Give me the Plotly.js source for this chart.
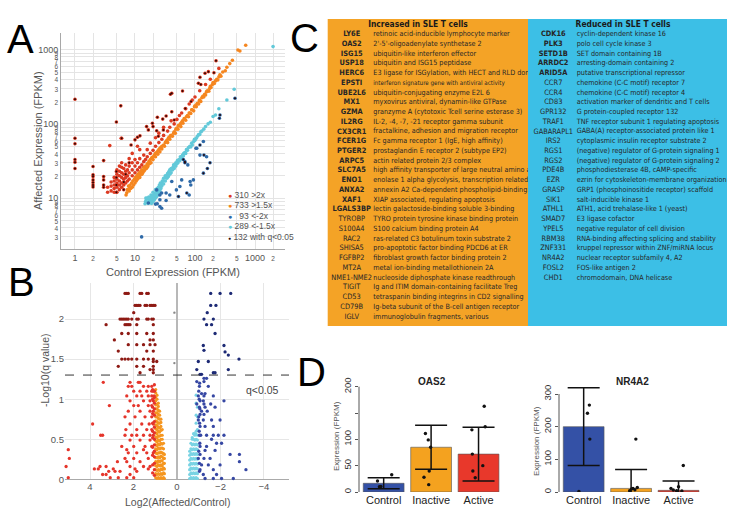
<!DOCTYPE html>
<html><head><meta charset="utf-8">
<script src="https://cdn.plot.ly/plotly-3.0.1.min.js"></script>
<style>html,body{margin:0;padding:0;background:#fff}#chart{width:735px;height:524px}</style>
</head><body><div id="chart"></div>
<script>
// ---------------- Panel A data: [control FPKM, affected FPKM] ----------------
const A_orange = [[7.1,11],[7.3,11.8],[7.5,13],[7.8,14.5],[8,12.5],[8.2,13.8],[8.3,15],[8.5,13.5],[8.8,16],[9,14],[9.2,17],[9.5,15],[9.8,18],[10,16],[10.2,19],[10.5,17],[10.8,20],[11,18],[11.3,21],[11.5,19],[11.8,22],[12,20],[12,19],[12.5,23],[12.8,21],[13,24],[13,21],[13.5,22],[14,26],[14,23],[14.5,24],[15,27],[15.5,25],[16,29],[16,26],[16.5,27],[17,31],[17.5,29],[18,33],[18,30],[18.5,30],[19,35],[20,33],[20,36],[21,38],[22,36],[22,40],[23,41],[24,39],[24,43],[25,45],[26,42],[26,47],[27,48],[28,46],[28,50],[30,52],[31,50],[32,56],[33,58],[34,60],[35,56],[36,64],[37,66],[38,62],[39,69],[40,70],[42,68],[44,75],[45,78],[47,75],[48,85],[50,88],[52,85],[53,95],[55,95],[57,100],[58,92],[60,105],[62,110],[63,102],[66,118],[67,115],[70,112],[72,125],[75,130],[78,125],[80,140],[82,140],[85,138],[88,155],[90,155],[95,150],[98,170],[100,175],[105,170],[108,185],[110,190],[115,185],[118,205],[120,210],[125,200],[130,225],[135,235],[140,230],[145,250],[150,245],[155,270],[160,280],[170,275],[175,300],[180,320],[185,310],[195,340],[200,360],[210,350],[220,380],[230,400],[240,390],[250,430],[260,460],[270,440],[290,500],[320,520],[340,580],[380,650],[420,720],[520,990],[560,960],[700,1150]];
const A_red = [[3.5,12],[3.5,14],[4,12.5],[4,14.5],[4,16.5],[4.5,12],[4.5,13.5],[4.5,15],[4.5,17],[4.5,19],[5,12],[5,14],[5,16],[5,18],[5,21],[5,24],[5.5,13],[5.5,15],[5.5,17],[5.5,20],[5.5,23],[5.5,27],[6,14],[6,16],[6,19],[6,22],[6,26],[6,30],[6.5,15],[6.5,18],[6.5,21],[6.5,25],[7,16],[7,19],[7,23],[7,28],[7.5,17],[7.5,20],[7.5,24],[8,18],[8,22],[8,27],[8,34],[9,20],[9,24],[9,30],[9,40],[10,22],[10,27],[10,33],[11,24],[11,30],[11,50],[12,26],[12,34],[12,45],[13,28],[14,31],[14,38],[15,33],[16,36],[16,45],[18,40],[18,55],[20,44],[22,50],[22,65],[25,56],[25,75],[28,62],[30,70],[30,90],[35,80],[38,90],[40,110],[45,100],[50,115],[55,130],[60,140],[70,160],[80,185],[90,210],[100,230],[120,280],[150,340],[180,400],[250,560],[3.8,51],[5.9,64]];
const A_upSig = [[1,215],[1,64],[1,54],[1,33],[1,30.5],[1,25],[2,26.6],[2,20.6],[2,19.5],[2,17.6],[2,16.2],[2,15],[2,14.1],[3,32],[3,19.5],[3,17.6],[3,15],[3,14],[4.9,106],[5.8,175],[41,259],[62,278],[114,353],[224,711],[147,481],[207,490],[41,146],[23.6,123],[20,92],[16.7,83],[12.1,69],[33,128],[29.7,83],[45,113],[69,161],[86,200],[24.5,68],[10,61],[6,64],[8.6,52],[11,66],[15.6,92],[19.5,102],[23,81],[29,116],[39,251],[121,426],[125,340],[167,506],[4.9,22.8],[4.9,19],[4.9,15],[4.9,12],[6.5,13],[6.5,16.5],[7,21],[8,30]];
const A_cyan = [[14.7,8.4],[15,9],[15.5,9.6],[16,10],[15.2,10],[16.5,8.5],[17,9],[17.5,9.6],[17,10.3],[18,8.6],[18.5,9.3],[18,10],[18.5,11],[19,8.5],[19.5,9.6],[19,10.5],[20,9],[20.5,10],[20,11],[20,12],[21,9.5],[21,10.5],[21.5,11.5],[22,10],[22,11],[22.5,12],[22,13],[23,10.5],[23,12],[23.5,13.5],[24,11],[24,12.5],[24.5,14],[25,11.5],[25,13],[25.5,15],[26,12.5],[26,14],[26.5,16],[27,13.5],[27,15],[28,14.5],[28,16],[28.5,17],[30,15.5],[30,17],[30,18.5],[32,17],[32,19],[32,20],[34,18.5],[34,20],[35,21.5],[36,19.5],[36,22],[37,23],[38,21],[38,24],[40,22],[40,25],[42,24],[43,26],[44,28],[45,25],[46,28],[48,27],[48,30],[50,29],[51,32],[52,30],[54,33],[56,32],[57,36],[58,34],[60,36],[62,38],[64,37],[65,40],[68,41],[70,40],[72,45],[75,44],[78,48],[82,50],[85,49],[88,55],[90,52],[95,58],[98,62],[100,60],[105,64],[110,68],[115,72],[120,72],[125,78],[130,80],[140,85],[150,92],[165,100],[180,105],[200,126],[220,132],[250,160],[340,210],[450,293],[2000,1100]];
const A_blue = [[12.9,3],[26,7.7],[22,8.3],[33,9.3],[38,11],[33,11.7],[85,15],[94,17.6],[121,38],[156,36],[76,28],[23,12.9],[26,11],[16.7,8.6],[60,17.6],[49,12.9],[104,47],[138,58],[56,14.3],[83,16.7],[80,11],[107,47],[41,16.7],[27.8,11.7],[26,9.5],[23.5,8.4],[27.8,7.3]];
const A_downSig = [[255,119],[261,132],[464,222],[178,30],[161,25],[141,38],[121,52],[64,33],[68,30],[53,10.5],[73,11.7],[138,21.7],[68,31]];
const A_legendLabels = ['310 >2x','733 >1.5x','\u00a0\u00a093 <-2x','289 <-1.5x','132 with q<0.05'];
const A_xTickVals = [1,2,5,10,20,50,100,200,500,1000,2000];
const A_yTickVals = [2,3,4,5,6,7,8,9,10,20,30,40,50,60,70,80,90,100,200,300,400,500,600,700,800,900,1000];

// ---------------- Panel B data: log2(Affected/Control), -log10(q) ----------------
const B_upSigRows = [[2.32,[2.39,2.31,2.24,1.70,1.62,1.39,1.32]],[2.17,[1.93,1.85,1.78,1.70,1.47,1.39,1.24,1.16,1.09,1.01]],[2.08,[1.99]],[2.0,[2.62,2.54,2.47,2.39,2.31,2.24,2.08,1.85,1.78,1.39,1.32,1.16,1.09]],[1.93,[3.26,2.39,2.31,2.24,2.16,1.85,1.09]],[1.82,[2.54,2.24,1.85,1.39,1.09]],[1.74,[2.88,1.24,1.09]],[1.68,[2.24,1.85,1.54,1.24,1.01]],[1.60,[2.70,1.39,1.09]],[1.50,[2.54,2.39,2.24,2.08,1.85,1.54,1.32,1.09]],[1.47,[1.09,0.93]],[1.41,[2.70,1.85,1.54,1.09]],[1.37,[1.24,1.09]],[1.33,[1.70,1.09]]];
const B_redRows = [[1.21,[3.39,2.16,1.78,1.70]],[1.16,[2.24,2.08,1.54,1.32,1.16]],[1.10,[1.99,1.70,1.39,1.16,1.09]],[1.04,[2.31,1.85,1.62,1.32,1.16,1.05]],[0.98,[2.16,1.54,1.24,1.09]],[0.92,[3.11,1.99,1.78,1.32,1.16]],[0.85,[2.24,1.70,1.24,1.09]],[0.78,[2.39,1.93,1.47,1.16]],[0.69,[3.88,2.16,1.62,1.28,1.09]],[0.62,[2.35,1.85,1.39,1.16]],[0.55,[3.51,3.42,2.39,2.08,1.85,1.54,1.24,1.09]],[0.49,[2.16,1.70,1.24]],[0.41,[2.54,1.99,1.47,1.16]],[0.37,[5.0,2.31,1.54]],[0.33,[2.24,1.85,1.39,1.09]],[0.26,[4.95,2.39,1.99,1.32]],[0.22,[2.74,2.31,1.70]],[0.16,[5.1,3.54,3.26,2.16,1.54,1.24]],[0.13,[3.80,3.62,2.93,1.93,1.32]],[0.10,[3.14,2.85,2.62,1.85]],[0.06,[3.42,3.26,2.16]],[0.02,[5.0,3.07,2.7,2.31,1.99]]];
const B_redCols = [[1.04,[0.05,0.12,0.2,0.28,0.35,0.43,0.5,0.58,0.65,0.72,0.8,0.88,0.95,1.02,1.1,1.18]],[1.12,[0.08,0.18,0.3,0.4,0.52,0.6,0.7,0.82,0.9,1.0,1.12]]];
const B_orangeCols = [[0.98,[0.02,0.07,0.12,0.17,0.22,0.27,0.33,0.38,0.43,0.48,0.53,0.58,0.63,0.68,0.73,0.78,0.83,0.88,0.93,0.98,1.03,1.08,1.12]],[0.92,[0.01,0.06,0.11,0.16,0.21,0.27,0.32,0.37,0.42,0.47,0.52,0.57,0.62,0.67,0.72,0.78,0.83,0.88,0.94,1.0,1.05]],[0.86,[0.02,0.07,0.12,0.18,0.23,0.28,0.33,0.39,0.44,0.49,0.54,0.6,0.65,0.7,0.76,0.81,0.86,0.91,0.95]],[0.80,[0.01,0.06,0.11,0.17,0.22,0.27,0.33,0.38,0.43,0.48,0.54,0.59,0.64,0.7,0.75,0.8,0.85]],[0.74,[0.02,0.07,0.13,0.18,0.23,0.29,0.34,0.39,0.45,0.5,0.55,0.61,0.66,0.71,0.75]],[0.68,[0.01,0.06,0.12,0.17,0.23,0.28,0.33,0.39,0.44,0.5,0.55,0.62]],[0.62,[0.02,0.08,0.14,0.2,0.26,0.32,0.38,0.45]],[0.58,[0.01,0.07,0.13,0.2,0.26,0.31]]];
const B_cyanCols = [[-0.58,[0.01,0.06,0.12,0.18,0.24,0.3,0.35]],[-0.64,[0.02,0.08,0.14,0.2,0.26,0.32,0.38,0.45]],[-0.70,[0.01,0.07,0.13,0.19,0.25,0.31,0.37,0.43,0.5,0.52]],[-0.76,[0.02,0.08,0.14,0.2,0.26,0.32,0.38,0.44,0.5,0.57]],[-0.82,[0.01,0.07,0.13,0.19,0.25,0.31,0.37,0.43,0.49,0.55,0.57]],[-0.88,[0.02,0.08,0.14,0.2,0.26,0.32,0.38,0.44,0.5,0.56,0.6,0.7,0.8,0.95,1.05]],[-0.94,[0.01,0.07,0.13,0.19,0.25,0.31,0.37,0.43,0.49,0.55,0.62,0.78,0.9]]];
const B_navy = [[-1.24,1.26],[-1.36,1.26],[-0.91,1.22],[-1.24,1.22],[-1.03,1.16],[-1.44,1.16],[-1.13,1.07],[-1.29,1.07],[-0.98,1.04],[-1.24,1.04],[-1.67,1.04],[-2.16,0.98],[-1.06,0.98],[-1.21,0.98],[-0.91,0.94],[-1.24,0.94],[-1.55,0.94],[-1.03,0.9],[-1.29,0.9],[-1.75,0.9],[-1.13,0.85],[-1.39,0.85],[-1.06,0.81],[-1.24,0.81],[-0.98,0.74],[-1.21,0.74],[-1.59,0.74],[-1.98,0.74],[-1.06,0.66],[-1.29,0.66],[-1.67,0.66],[-1.03,0.55],[-1.09,0.55],[-1.36,0.55],[-1.67,0.55],[-1.9,0.55],[-2.16,0.55],[-1.59,0.5],[-1.82,0.45],[-2.05,0.45],[-1.06,0.41],[-1.36,0.41],[-1.29,0.36],[-1.75,0.36],[-1.06,0.31],[-2.44,0.31],[-2.87,0.31],[-0.98,0.26],[-1.24,0.26],[-1.52,0.26],[-2.87,0.22],[-1.13,0.18],[-1.44,0.18],[-1.98,0.18],[-3.17,0.12],[-1.06,0.12],[-1.67,0.12],[-1.21,0.06],[-1.82,0.06],[-1.29,0.01],[-1.67,0.01],[-2.05,0.01],[-2.59,0.01],[-1.03,0.1],[-1.03,0.2],[-1.0,0.35],[-1.05,0.45],[-1.02,0.6],[-1.04,0.7],[-1.0,0.78],[-1.05,0.88],[-1.02,1.0],[-1.0,1.1],[-1.04,1.2]];
const B_navySig = [[-1.55,2.32],[-1.98,2.32],[-2.47,2.32],[-1.55,2.17],[-1.79,2.17],[-1.39,2.08],[-1.24,2.0],[-1.67,2.0],[-1.36,1.93],[-1.59,1.93],[-1.75,1.82],[-1.21,1.67],[-2.16,1.67],[-1.24,1.61],[-2.21,1.59],[-2.36,1.55],[-2.85,1.5],[-0.98,1.47],[-1.44,1.47],[-0.91,1.37],[-2.36,1.37],[-1.67,1.33],[-1.75,1.33],[-1.06,1.31],[-1.13,1.31]];
const B_gray = [[0.12,2.08],[0.12,1.45]];
const B_qCut = 0.05;

// ---------------- Panel C data ----------------
const upGenes = ['LY6E','OAS2','ISG15','USP18','HERC6','EPSTI','UBE2L6','MX1','GZMA','IL2RG','CX3CR1','FCER1G','PTGER2','ARPC5','SLC7A5','ENO1','ANXA2','XAF1','LGALS3BP','TYROBP','S100A4','RAC2','SHISA5','FGFBP2','MT2A','NME1-NME2','TIGIT','CD53','CD79B','IGLV'];
const upDesc = ['retinoic acid-inducible lymphocyte marker',"2'-5'-oligoadenylate synthetase 2",'ubiquitin-like interferon effector','ubiquitin and ISG15 peptidase','E3 ligase for ISGylation, with HECT and RLD dom','interferon signature gene with antiviral activity','ubiquitin-conjugating enzyme E2L 6','myxovirus antiviral, dynamin-like GTPase','granzyme A (cytotoxic Tcell serine esterase 3)','IL-2, -4, -7, -21 receptor gamma subunit','fractalkine, adhesion and migration receptor','Fc gamma receptor 1 (IgE, high affinity)','prostaglandin E receptor 2 (subtype EP2)','actin related protein 2/3 complex','high affinity transporter of large neutral amino aci','enolase 1 alpha glycolysis, transcription related','annexin A2 Ca-dependent phospholipid-binding','XIAP associated, regulating apoptosis','lectin galactoside-binding soluble 3-binding','TYRO protein tyrosine kinase binding protein','S100 calcium binding protein A4','ras-related C3 botulinum toxin substrate 2','pro-apoptotic factor binding PDCD6 at ER','fibroblast growth factor binding protein 2','metal ion-binding metallothionein 2A','nucleoside diphosphate kinase readthrough','Ig and ITIM domain-containing facilitate Treg','tetraspanin binding integrins in CD2 signalling','Ig-beta subunit of the B-cell antigen receptor','immunoglobulin fragments, various'];
const upBoldCount = 19;
const downGenes = ['CDK16','PLK3','SETD1B','ARRDC2','ARID5A','CCR7','CCR4','CD83','GPR132','TRAF1','GABARAPL1','IRS2','RGS1','RGS2','PDE4B','EZR','GRASP','SIK1','ATHL1','SMAD7','YPEL5','RBM38','ZNF331','NR4A2','FOSL2','CHD1'];
const downDesc = ['cyclin-dependent kinase 16','polo cell cycle kinase 3','SET domain containing 1B','arresting-domain containing 2','putative transcriptional repressor','chemokine (C-C motif) receptor 7','chemokine (C-C motif) receptor 4','activation marker of dendritic and T cells','G protein-coupled receptor 132','TNF receptor subunit 1 regulating apoptosis','GABA(A) receptor-associated protein like 1','cytoplasmic insulin receptor substrate 2','(negative) regulator of G-protein signaling 1','(negative) regulator of G-protein signaling 2','phosphodiesterase 4B, cAMP-specific','ezrin for cytoskeleton-membrane organization','GRP1 (phosphoinositide receptor) scaffold','salt-inducible kinase 1','ATH1, acid trehalase-like 1 (yeast)','E3 ligase cofactor','negative regulator of cell division','RNA-binding affecting splicing and stability','kruppel repressor within ZNF/miRNA locus','nuclear receptor subfamily 4, A2','FOS-like antigen 2','chromodomain, DNA helicase'];
const downBoldCount = 5;
const upHeader = 'Increased in SLE T cells';
const downHeader = 'Reduced in SLE T cells';

// ---------------- Panel D data ----------------
const D_groups = ['Control','Inactive','Active'];
const OAS2_mean = [16.5, 85, 72];
const OAS2_sd = [10.5, 42, 51];
const OAS2_jit = [[-0.13,-0.09,-0.06,0.17],[-0.12,-0.06,-0.01,-0.04,-0.15,-0.05],[0.12,0.14,-0.14,-0.13,0.09,-0.12,-0.07]];
const OAS2_val = [[20.9,10,10.5,32.9],[111,99,85,40,28,14],[163,124,118,72,50,40,27]];
const NR4A2_mean = [200, 11, 5];
const NR4A2_sd = [119, 58, 28.6];
const NR4A2_jit = [[0.12,0.08,0.13,-0.10],[0.10,0.13,0.04,0.01,0.08,-0.03],[0.10,0.00,-0.16,-0.11,-0.04,0.07]];
const NR4A2_val = [[266,241,162,2],[162,14,11,9,7,4],[81,16,11,6,4,3]];

// ---------------- helpers ----------------
const W = 735, H = 524;
const dxp = (a, b) => [a / W, b / W];
const dyp = (top, bottom) => [1 - bottom / H, 1 - top / H];
const px = p => p / W, py = p => 1 - p / H;
const col = (arr, i) => arr.map(p => p[i]);
const rowsToXY = rows => { const x = [], y = []; rows.forEach(r => r[1].forEach(v => { x.push(v); y.push(r[0]); })); return {x, y}; };
const colsToXY = cols => { const x = [], y = []; cols.forEach(c => c[1].forEach(v => { x.push(c[0]); y.push(v); })); return {x, y}; };
// log tick labels: powers of ten normal, others small
const logLabel = v => { const l = Math.log10(v); return Math.abs(l - Math.round(l)) < 1e-9 ? String(v) : '<span style="font-size:6.5px">' + String(v).charAt(0) + '</span>'; };

const cRed = '#dc3a22', cOrange = '#f5861f', cBlue = '#2f6aa8', cCyan = '#62c9d9', cSig = '#2a0808';
const traces = [];
function addA(pts, color, size, name) {
  traces.push({type: 'scatter', mode: 'markers', x: col(pts, 0), y: col(pts, 1), xaxis: 'x', yaxis: 'y',
    marker: {color: color, size: size, line: {width: 0}}, showlegend: false, name: name, hoverinfo: 'x+y'});
}
addA(A_orange, cOrange, 3.6, '>1.5x');
addA(A_red.concat(A_upSig), cRed, 3.6, '>2x');
addA(A_cyan, cCyan, 3.6, '<-1.5x');
addA(A_blue.concat(A_downSig), cBlue, 3.6, '<-2x');
addA(A_upSig.concat(A_downSig), cSig, 2.0, 'q<0.05');

// Panel B
function addB(x, y, color, size) {
  traces.push({type: 'scatter', mode: 'markers', x: x, y: y, xaxis: 'x2', yaxis: 'y2', cliponaxis: false,
    marker: {color: color, size: size, line: {width: 0}}, showlegend: false});
}
const bOr = colsToXY(B_orangeCols); addB(bOr.x, bOr.y, '#f5961f', 3.2);
const bCy = colsToXY(B_cyanCols); addB(bCy.x, bCy.y, '#79d3e3', 3.2);
const bRr = rowsToXY(B_redRows), bRc = colsToXY(B_redCols);
addB(bRr.x.concat(bRc.x), bRr.y.concat(bRc.y), '#e5352b', 3.3);
const bUs = rowsToXY(B_upSigRows); addB(bUs.x, bUs.y, '#8e1a14', 3.3);
addB(col(B_navy, 0), col(B_navy, 1), '#3647a3', 3.3);
addB(col(B_navySig, 0), col(B_navySig, 1), '#1d2a75', 3.3);
addB(col(B_gray, 0), col(B_gray, 1), '#888888', 2.4);

// Panel D
function addD(xa, ya, mean, sd, jit, val) {
  const xs = D_groups.map((g, i) => i);
  traces.push({type: 'bar', x: xs, y: mean, xaxis: xa, yaxis: ya, width: 0.86, showlegend: false,
    marker: {color: ['#3451a6', '#f4a21f', '#e8382b'], line: {color: '#555', width: 0.6}},
    error_y: {type: 'data', array: sd, visible: true, color: '#111', thickness: 1.5, width: 16}});
  const px_ = [], py_ = [];
  jit.forEach((j, gi) => j.forEach((o, k) => { px_.push(gi + o); py_.push(val[gi][k]); }));
  traces.push({type: 'scatter', mode: 'markers', x: px_, y: py_, xaxis: xa, yaxis: ya, showlegend: false,
    marker: {color: '#111', size: 3.4}});
}
addD('x3', 'y3', OAS2_mean, OAS2_sd, OAS2_jit, OAS2_val);
addD('x4', 'y4', NR4A2_mean, NR4A2_sd, NR4A2_jit, NR4A2_val);

// Panel C table (text traces, clipped to each column area)
const tblFont = 'Liberation Sans Narrow, Arial Narrow, DejaVu Sans Condensed, Liberation Sans, sans-serif';
function addTable(xa, ya, genes, desc, boldN, geneX, descX, header, headX) {
  const idx = genes.map((g, i) => i);
  traces.push({type: 'scatter', mode: 'text', x: idx.map(() => geneX), y: idx, xaxis: xa, yaxis: ya, cliponaxis: true,
    text: genes.map((g, i) => i < boldN ? '<b>' + g + '</b>' : g), textposition: 'middle center',
    textfont: {family: tblFont, size: 7.4, color: '#262626'}, showlegend: false, hoverinfo: 'skip'});
  traces.push({type: 'scatter', mode: 'text', x: idx.map(() => descX), y: idx, xaxis: xa, yaxis: ya, cliponaxis: true,
    text: desc, textposition: 'middle right',
    textfont: {family: tblFont, size: desc.map(d => d.indexOf('interferon signature') === 0 ? 6.2 : 7.2), color: '#262626'},
    showlegend: false, hoverinfo: 'skip'});
  traces.push({type: 'scatter', mode: 'text', x: [headX], y: [-0.955], xaxis: xa, yaxis: ya, cliponaxis: true,
    text: ['<b>' + header + '</b>'], textposition: 'middle center',
    textfont: {family: tblFont, size: 8.4, color: '#1a1a1a'}, showlegend: false, hoverinfo: 'skip'});
}
addTable('x5', 'y5', upGenes, upDesc, upBoldCount, 24, 45.6, upHeader, 90.3);
addTable('x6', 'y6', downGenes, downDesc, downBoldCount, 25.3, 48.7, downHeader, 95);

const baseFont = 'Liberation Sans, Arial, sans-serif';
const tableY = {range: [29.95, -1.571], domain: dyp(19, 326), visible: false};

const layout = {
  width: W, height: H, margin: {l: 0, r: 0, t: 0, b: 0},
  paper_bgcolor: '#fff', plot_bgcolor: 'rgba(0,0,0,0)',
  font: {family: baseFont, color: '#444'},
  showlegend: false,
  xaxis: {domain: dxp(61, 285), type: 'log', range: [-0.233, 3.5], tickvals: A_xTickVals, ticktext: A_xTickVals.map(logLabel),
    gridcolor: '#e4e4e4', showline: true, linecolor: '#a8a8a8', zeroline: false, ticks: '',
    tickfont: {size: 9, color: '#555'}, anchor: 'y'},
  yaxis: {domain: dyp(33, 249), type: 'log', range: [0.314, 3.225], tickvals: A_yTickVals, ticktext: A_yTickVals.map(logLabel),
    gridcolor: '#e4e4e4', showline: true, linecolor: '#a8a8a8', zeroline: false, ticks: '',
    tickfont: {size: 9, color: '#555'}, anchor: 'x'},
  xaxis2: {domain: dxp(65, 289), range: [5.15, -5.15], tickvals: [4, 2, 0, -2, -4], anchor: 'y2',
    gridcolor: '#e6e6e6', zeroline: true, zerolinecolor: '#b8b8b8', zerolinewidth: 1.6,
    showline: false, tickfont: {size: 9.5, color: '#555'}, ticks: ''},
  yaxis2: {domain: dyp(283, 479.3), range: [0, 2.45], dtick: 0.5, anchor: 'x2',
    gridcolor: '#e6e6e6', zeroline: true, zerolinecolor: '#aaaaaa', zerolinewidth: 1.2,
    tickfont: {size: 9.5, color: '#555'}, ticks: ''},
  xaxis3: {domain: dxp(359, 507), range: [-0.52, 2.6], anchor: 'y3', tickvals: [0, 1, 2], ticktext: D_groups,
    showgrid: false, zeroline: false, showline: false, ticks: '', tickfont: {size: 11, color: '#222'}},
  yaxis3: {domain: dyp(378.8, 492), range: [0, 215], anchor: 'x3', tickvals: [0, 50, 100, 150, 200],
    ticktext: ['0', '50', '100', '', '200'], tickangle: -90, ticks: 'outside', ticklen: 3, tickcolor: '#555',
    showgrid: false, zeroline: false, showline: false, tickfont: {size: 9.5, color: '#333'}},
  xaxis4: {domain: dxp(559, 707), range: [-0.52, 2.6], anchor: 'y4', tickvals: [0, 1, 2], ticktext: D_groups,
    showgrid: false, zeroline: false, showline: false, ticks: '', tickfont: {size: 11, color: '#222'}},
  yaxis4: {domain: dyp(384.2, 492), range: [0, 330], anchor: 'x4', tickvals: [0, 100, 200, 300],
    tickangle: -90, ticks: 'outside', ticklen: 3, tickcolor: '#555',
    showgrid: false, zeroline: false, showline: false, tickfont: {size: 9.5, color: '#333'}},
  xaxis5: {domain: dxp(327.7, 528), range: [0, 200.3], visible: false, anchor: 'y5'},
  yaxis5: Object.assign({}, tableY, {anchor: 'x5'}),
  xaxis6: {domain: dxp(528, 727), range: [0, 199], visible: false, anchor: 'y6'},
  yaxis6: Object.assign({}, tableY, {anchor: 'x6'}),
  bargap: 0,
  shapes: [
    {type: 'rect', xref: 'paper', yref: 'paper', x0: px(327.7), x1: px(528), y0: py(326), y1: py(19), fillcolor: '#f4a326', line: {width: 0}, layer: 'below'},
    {type: 'rect', xref: 'paper', yref: 'paper', x0: px(528), x1: px(727), y0: py(326), y1: py(19), fillcolor: '#3cbfe6', line: {width: 0}, layer: 'below'},
    {type: 'line', xref: 'x2 domain', yref: 'y2', x0: 0, x1: 1, y0: -Math.log10(B_qCut), y1: -Math.log10(B_qCut), line: {color: '#333', width: 1, dash: 'dash'}},
    {type: 'line', xref: 'x3 domain', yref: 'y3', x0: 0, x1: 0, y0: 0, y1: 200, line: {color: '#555', width: 1}},
    {type: 'line', xref: 'x4 domain', yref: 'y4', x0: 0, x1: 0, y0: 0, y1: 300, line: {color: '#555', width: 1}}
  ],
  annotations: []
};
const ann = (text, x, y, opts) => layout.annotations.push(Object.assign({text: text, x: px(x), y: py(y), xref: 'paper', yref: 'paper', showarrow: false, xanchor: 'center', yanchor: 'middle'}, opts || {}));
// panel letters
ann('A', 20, 39, {font: {size: 40, color: '#000'}});
ann('B', 21, 282, {font: {size: 40, color: '#000'}});
ann('C', 304, 38, {font: {size: 40, color: '#000'}});
ann('D', 311, 372, {font: {size: 40, color: '#000'}});
// axis titles
ann('Affected Expression (FPKM)', 38, 141, {textangle: -90, font: {size: 11, color: '#555'}});
ann('Control Expression (FPKM)', 173, 272, {font: {size: 11, color: '#555'}});
ann('-Log10(q value)', 45, 370, {textangle: -90, font: {size: 10.5, color: '#555'}});
ann('Log2(Affected/Control)', 177, 502, {font: {size: 10.5, color: '#555'}});
ann('q&lt;0.05', 262, 390, {font: {size: 10.5, color: '#444'}});
// legend panel A
const legColors = [cRed, cOrange, cBlue, cCyan, cSig];
A_legendLabels.forEach((lab, i) => {
  ann('<span style="color:' + legColors[i] + ';font-size:' + (i === 4 ? 5 : 7) + 'px">●</span> ' + lab, 226, 195 + i * 10.4,
    {xanchor: 'left', font: {size: 8.5, color: '#555'}});
});
// panel D titles
ann('<b>OAS2</b>', 432, 381, {font: {size: 10, color: '#222'}});
ann('<b>NR4A2</b>', 632, 381, {font: {size: 10, color: '#222'}});
ann('Expression (FPKM)', 336, 436, {textangle: -90, font: {size: 8, color: '#555'}});
ann('Expression (FPKM)', 536, 441, {textangle: -90, font: {size: 8, color: '#555'}});

Plotly.newPlot('chart', traces, layout, {displayModeBar: false, staticPlot: true});
</script></body></html>
